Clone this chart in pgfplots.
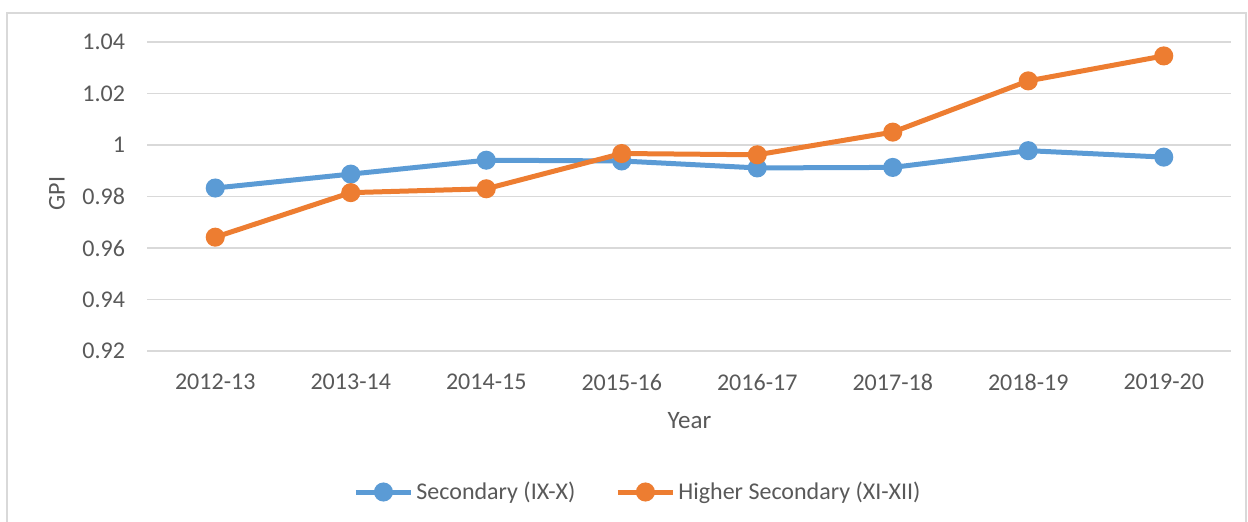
\documentclass[border=0pt]{standalone}
\usepackage{pgfplots}
\pgfplotsset{compat=1.18}
\usepackage{fontspec}
\setmainfont{Carlito}
\definecolor{sblue}{HTML}{5B9BD5}
\definecolor{sorange}{HTML}{ED7D31}
\definecolor{txt}{HTML}{595959}
\definecolor{gridc}{HTML}{D9D9D9}
\begin{document}
\begin{tikzpicture}
\path[use as bounding box] (-73.75pt,-85pt) rectangle (550.25pt,175.5pt);
\draw[gridc, line width=0.75pt] (-70.25pt,169pt) rectangle (549.25pt,-95pt);
\begin{axis}[
  at={(0pt,0pt)}, anchor=south west,
  scale only axis, width=542pt, height=154.5pt,
  xmin=-0.5, xmax=7.5, ymin=0.92, ymax=1.04,
  xtick={0,...,7},
  xticklabels={2012-13,2013-14,2014-15,2015-16,2016-17,2017-18,2018-19,2019-20},
  ytick={0.92,0.94,0.96,0.98,1,1.02,1.04},
  yticklabels={0.92,0.94,0.96,0.98,1,1.02,1.04},
  axis line style={draw=none},
  major tick length=0pt,
  xmajorgrids=false, ymajorgrids=true,
  y grid style={gridc, line width=0.75pt},
  tick label style={font=\fontsize{12}{14}\selectfont, text=txt},
  yticklabel style={xshift=-7.75pt},
  xticklabel style={yshift=-8pt},
  xlabel={Year}, ylabel={GPI},
  label style={font=\fontsize{12.5}{15}\selectfont, text=txt},
  xlabel style={at={(rel axis cs:0.5,0)}, anchor=center, yshift=-35pt},
  ylabel style={at={(rel axis cs:-0.0835,0.51)}, anchor=center, font=\fontsize{12}{14}\selectfont},
  legend style={at={(rel axis cs:0.4525,-0.4563)}, anchor=center, draw=none,
    font=\fontsize{12}{14}\selectfont, text=txt, legend columns=2,
    nodes={inner sep=1pt},
    /tikz/every even column/.append style={column sep=19pt},
    /tikz/every odd column/.append style={column sep=0.5pt}},
  legend cell align=left,
  legend image code/.code={\draw[mark repeat=2,mark phase=2] plot coordinates {(0pt,0pt)(13.75pt,0pt)(27.5pt,0pt)};},
  clip=false,
]
\addplot[sblue, line width=2.5pt, mark=*, mark size=3.5pt, mark options={solid}] coordinates {
(0,0.9833)(1,0.9887)(2,0.9941)(3,0.9938)(4,0.9911)(5,0.9913)(6,0.9978)(7,0.9953)};
\addlegendentry{Secondary (IX-X)}
\addplot[sorange, line width=2.5pt, mark=*, mark size=3.5pt, mark options={solid}] coordinates {
(0,0.9642)(1,0.9815)(2,0.9830)(3,0.9967)(4,0.9962)(5,1.0050)(6,1.0249)(7,1.0346)};
\addlegendentry{Higher Secondary (XI-XII)}
\end{axis}
\end{tikzpicture}
\end{document}
